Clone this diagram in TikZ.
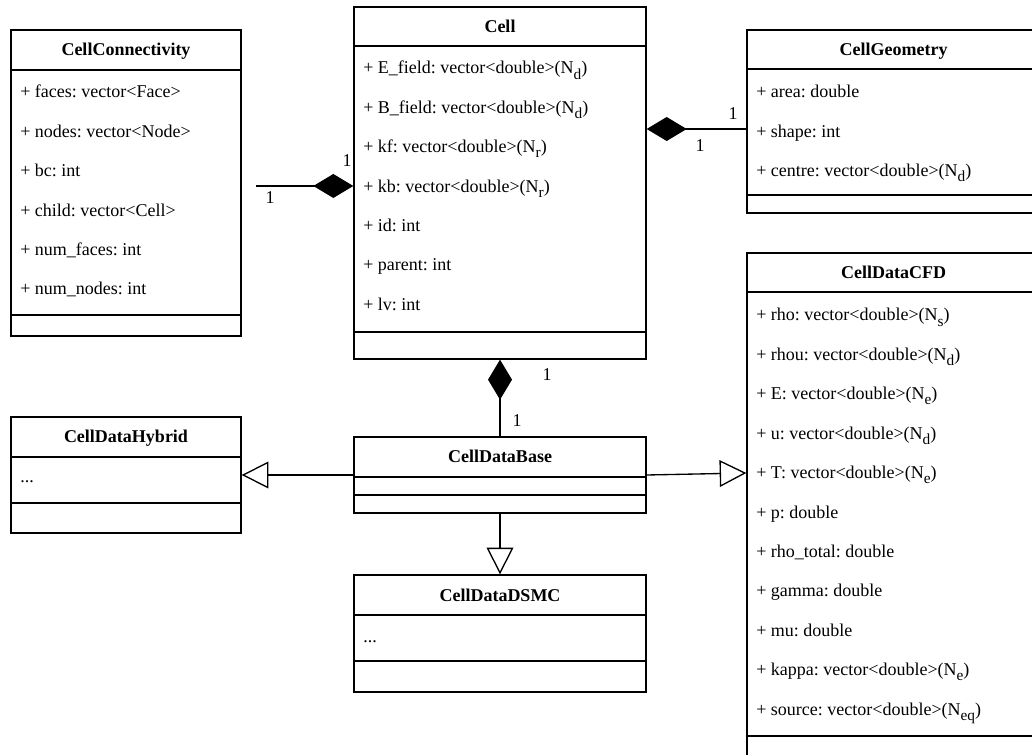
\documentclass[tikz,border=0pt]{standalone}
\usepackage{fontspec}
\setmainfont{Liberation Serif}
\usetikzlibrary{arrows.meta,fit,calc}

% body text size used throughout the diagram
\newcommand\bodysize{\fontsize{13.5pt}{16pt}\selectfont\frenchspacing}
% lowered, smaller index as in N_d
\newcommand\subs[1]{\raisebox{-0.28em}{\fontsize{11.5pt}{12pt}\selectfont #1}}

\tikzset{
  umlbox/.style={draw, line width=1pt, inner sep=0pt, fill=white},
  divider/.style={line width=1pt},
  classname/.style={font=\bodysize\bfseries, anchor=base, inner sep=0pt},
  attr/.style={font=\bodysize, anchor=base west, inner sep=0pt},
  mult/.style={font=\bodysize, inner sep=0pt},
  compo/.style={line width=1pt, {Diamond[length=30pt,width=18pt,fill=black]}-},
  inherit/.style={line width=1pt, -{Triangle[open,length=20pt,width=20pt,fill=white]}},
}

% #1 name, #2 left, #3 top, #4 right, #5 bottom, #6 title rule, #7 operations rule, #8 title
\newcommand\umlclass[8]{%
  \node[umlbox, fit={(#2,#3) (#4,#5)}] (#1) {};
  \draw[divider] (#2,#6) -- (#4,#6);
  \draw[divider] (#2,#7) -- (#4,#7);
  \node[classname] (#1-title) at ({(#2+#4)/2},{(#3+#6)/2+6}) {#8};
}
% #1 name, #2 x, #3 first baseline, #4 attribute list
\newcommand\umlattrs[4]{%
  \foreach \t [count=\i from 0] in {#4}
    \node[attr] (#1-a\i) at (#2,{#3+39.4*\i}) {\t};
}

\begin{document}
\begin{tikzpicture}[x=0.75pt,y=-0.75pt]
\useasboundingbox (0,0) rectangle (1032,755);

% classes
\umlclass{conn}{11}{30}{241}{336}{70}{315}{CellConnectivity}
\umlattrs{conn}{20}{98}{%
  + faces: vector<Face>,
  + nodes: vector<Node>,
  + bc: int,
  + child: vector<Cell>,
  + num\_faces: int,
  + num\_nodes: int}

\umlclass{cell}{354}{7}{646}{359}{46}{332}{Cell}
\umlattrs{cell}{363}{74}{%
  + E\_field: vector<double>(N\subs{d}),
  + B\_field: vector<double>(N\subs{d}),
  + kf: vector<double>(N\subs{r}),
  + kb: vector<double>(N\subs{r}),
  + id: int,
  + parent: int,
  + lv: int}

\umlclass{geom}{747}{30}{1040}{213}{69}{195}{CellGeometry}
\umlattrs{geom}{756}{98}{%
  + area: double,
  + shape: int,
  + centre: vector<double>(N\subs{d})}

\umlclass{cfd}{747}{253}{1040}{760}{292}{736}{CellDataCFD}
\umlattrs{cfd}{756}{321}{%
  + rho: vector<double>(N\subs{s}),
  + rhou: vector<double>(N\subs{d}),
  + E: vector<double>(N\subs{e}),
  + u: vector<double>(N\subs{d}),
  + T: vector<double>(N\subs{e}),
  + p: double,
  + rho\_total: double,
  + gamma: double,
  + mu: double,
  + kappa: vector<double>(N\subs{e}),
  + source: vector<double>(N\subs{eq})}

\umlclass{hybrid}{11}{417}{241}{533}{457}{503}{CellDataHybrid}
\node[attr] (hybrid-a0) at (20,483) {...};

\umlclass{base}{354}{437}{646}{513}{477}{495}{CellDataBase}

\umlclass{dsmc}{354}{575}{646}{692}{615}{661}{CellDataDSMC}
\node[attr] (dsmc-a0) at (363,642) {...};

% connector end points
\coordinate (conn-free) at (256,186);
\coordinate (geom-y) at (0,129);
\coordinate (cfd-y) at (0,473);

% compositions
\draw[compo] (cell.west |- conn-free) -- (conn-free);
\draw[compo] (cell.east |- geom-y) -- (geom.west |- geom-y);
\draw[compo] (cell.south) -- (base.north);

% generalisations
\draw[inherit] (base.west) -- (base.west -| hybrid.east);
\draw[inherit] (base.south) -- (dsmc.north);
\draw[inherit] (base.east) -- (cfd.west |- cfd-y);

% multiplicities
\node[mult] (m-conn-a) at (270,198) {1};
\node[mult] (m-conn-b) at (347,161) {1};
\node[mult] (m-geom-a) at (733,114) {1};
\node[mult] (m-geom-b) at (700,146) {1};
\node[mult] (m-base-a) at (547,375) {1};
\node[mult] (m-base-b) at (517,421) {1};
\end{tikzpicture}
\end{document}
